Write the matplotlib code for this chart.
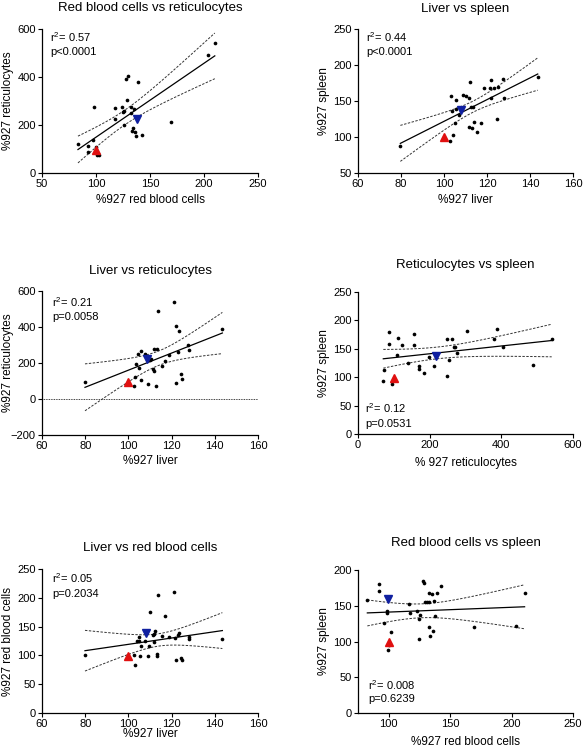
import numpy as np
import matplotlib
matplotlib.use("Agg")
import matplotlib.pyplot as plt

plt.rcParams['font.family'] = ['Liberation Sans', 'DejaVu Sans']
plt.rcParams['mathtext.fontset'] = 'custom'
plt.rcParams['mathtext.rm'] = 'Liberation Sans'
plt.rcParams['mathtext.it'] = 'Liberation Sans'
plt.rcParams['mathtext.bf'] = 'Liberation Sans'

# ---------------- data ----------------
# Panel 1: red blood cells (x) vs reticulocytes (y)
rbc_ret_x = [83.3, 92.2, 92.8, 96.8, 98.4, 99.6, 100.2, 101, 103, 117.2, 117.8, 124, 124.9,
             125.5, 125.8, 128, 128.6, 129.8, 132.6, 132.6, 133.2, 134.4, 135.4, 136, 136.9,
             139, 143, 169.6, 203.8, 210]
rbc_ret_y = [121, 114, 88, 139, 277, 110, 89, 74, 74, 269, 224, 277, 253,
             198, 259, 390, 303, 406, 249, 274, 175, 186, 266, 171, 155,
             380, 157, 213, 493, 543]
rbc_ret_ref = (100, 96)
rbc_ret_mean = (137.8, 224)

# Panel 2: liver (x) vs spleen (y)
liv_spl_x = [79.7, 102.9, 103.2, 104.4, 103.7, 104.9, 105.5, 105.4, 107.2, 107.8, 108.9, 110.2,
             111.7, 111.7, 112.3, 112.6, 113.1, 113.9, 113.6, 115.4, 117, 118.5, 121.3, 121.7,
             121.7, 123.2, 124.9, 124.6, 127.6, 127.8, 143.6]
liv_spl_y = [87.5, 94, 156.5, 102.3, 136, 119, 152, 139.4, 130.6, 137.5, 158, 156.5,
             154.6, 114.4, 176, 142, 112, 121, 142, 107.4, 120, 167.6, 167.6, 178.7,
             154.6, 167.6, 169, 125.5, 181, 154, 183.3]
liv_spl_ref = (100, 100)
liv_spl_mean = (108.1, 137.5)

# Panel 3: liver (x) vs reticulocytes (y)
liv_ret_x = [79.9, 103, 102.8, 103.7, 104.5, 105, 105.8, 106, 107.5, 109.2, 110, 110.4,
             111.6, 112, 112, 113.2, 113, 113.7, 115.5, 116.9, 118.6, 121.3, 121.9, 122,
             123, 123.3, 124.4, 124.7, 127.8, 128, 143.5]
liv_ret_y = [95, 121, 71, 197, 251, 171, 269, 108, 252, 84, 219, 225,
             166, 155, 277, 277, 73, 489, 182, 212, 247, 539, 404, 88,
             260, 380, 140, 112, 299, 275, 389]
liv_ret_ref = (100, 95)
liv_ret_mean = (108.5, 221)

# Panel 4: reticulocytes (x) vs spleen (y)
ret_spl_x = [70.6, 71.5, 85.4, 86.4, 93.8, 107.7, 112.4, 121.7, 139.3, 155, 157, 170,
             170, 183, 197.8, 211.8, 249, 249, 254.5, 262.8, 268.4, 272, 276.8, 302.8,
             379, 388, 404, 488.5, 540.5]
ret_spl_y = [94, 112.7, 180, 159, 87.6, 139, 169, 157, 124.4, 156, 176, 120,
             114.5, 107, 136, 120, 102, 168, 131, 166.5, 152.5, 154, 142, 181,
             167.6, 184, 154, 121, 167]
ret_spl_ref = (100, 99)
ret_spl_mean = (218, 137)

# Panel 5: liver (x) vs red blood cells (y)
liv_rbc_x = [79.9, 102.8, 103.1, 103.8, 104.7, 105, 105.6, 106, 107.5, 109.2, 109.5, 110.2,
             111.6, 112, 112, 112.5, 113.2, 113.2, 113.6, 115.5, 116.9, 118.7, 121.2, 121.8,
             122, 123, 123.2, 124.4, 124.9, 128, 128, 143.5]
liv_rbc_y = [100, 100, 82.6, 125.6, 125.6, 132.6, 98.8, 117, 125, 98.8, 117, 175,
             135, 122.7, 136.6, 142.4, 103, 99.4, 204, 133.7, 169, 132, 210, 129.7,
             92.4, 135.5, 139, 96, 91.9, 132.6, 129, 128]
liv_rbc_ref = (100, 99.4)
liv_rbc_mean = (108, 139)

# Panel 6: red blood cells (x) vs spleen (y)
rbc_spl_x = [82.6, 92.1, 92.1, 96.2, 98.4, 98.9, 99.7, 100.5, 102.2, 116.3, 117.7, 123.4,
             124.5, 125.8, 124.7, 127.7, 128.5, 129.6, 131.3, 132.6, 132.6, 132.6, 134, 135.3,
             135.9, 136.7, 138, 138.9, 142.7, 169.3, 204, 210.6]
rbc_spl_y = [157.7, 180, 170, 126, 143, 140, 88, 95, 112.6, 152, 139.5, 143,
             131, 137, 103, 184, 182, 155, 155, 168, 155, 120, 108, 167,
             115, 156, 136, 168, 177, 120.5, 122, 168]
rbc_spl_ref = (100, 100)
rbc_spl_mean = (99.2, 160)

titles = ["Red blood cells vs reticulocytes", "Liver vs spleen",
          "Liver vs reticulocytes", "Reticulocytes vs spleen",
          "Liver vs red blood cells", "Red blood cells vs spleen"]
xlabels = ["%927 red blood cells", "%927 liver", "%927 liver",
           "% 927 reticulocytes", "%927 liver", "%927 red blood cells"]
ylabels = ["%927 reticulocytes", "%927 spleen", "%927 reticulocytes",
           "%927 spleen", "%927 red blood cells", "%927 spleen"]
r2_texts = ["0.57", "0.44", "0.21", "0.12", "0.05", "0.008"]
p_texts = ["p<0.0001", "p<0.0001", "p=0.0058", "p=0.0531", "p=0.2034", "p=0.6239"]
xticks = [[50, 100, 150, 200, 250], [60, 80, 100, 120, 140, 160], [60, 80, 100, 120, 140, 160],
          [0, 200, 400, 600], [60, 80, 100, 120, 140, 160], [100, 150, 200, 250]]
yticks = [[0, 200, 400, 600], [50, 100, 150, 200, 250], [-200, 0, 200, 400, 600],
          [0, 50, 100, 150, 200, 250], [0, 50, 100, 150, 200, 250], [0, 50, 100, 150, 200]]
xlims = [(50, 250), (60, 160), (60, 160), (0, 600), (60, 160), (75, 250)]
ylims = [(0, 600), (50, 250), (-200, 600), (0, 250), (0, 250), (0, 200)]

panels = [(rbc_ret_x, rbc_ret_y, rbc_ret_ref, rbc_ret_mean),
          (liv_spl_x, liv_spl_y, liv_spl_ref, liv_spl_mean),
          (liv_ret_x, liv_ret_y, liv_ret_ref, liv_ret_mean),
          (ret_spl_x, ret_spl_y, ret_spl_ref, ret_spl_mean),
          (liv_rbc_x, liv_rbc_y, liv_rbc_ref, liv_rbc_mean),
          (rbc_spl_x, rbc_spl_y, rbc_spl_ref, rbc_spl_mean)]

# ---------------- layout (pixels) ----------------
W, H = 584, 749
rects = [(42, 258, 29, 173), (358, 573, 29, 173),
         (42, 258, 291, 435), (358, 573, 292, 434),
         (42, 258, 569, 713), (358, 573, 570, 713)]
title_y = [8, 9, 271, 265, 548, 543]
xlabel_y = [200, 200, 461, 463, 734, 742]
ylabel_x = [8, 324, 8, 324, 8, 324]
stat_pos = [(50, 37, 52), (366, 37, 52), (52, 302, 317), (365, 408, 424),
            (52, 578, 594), (368, 685, 699)]

fig = plt.figure(figsize=(W / 100, H / 100), dpi=100)
T_CRIT = 2.05

for i, (xs, ys, ref, mean) in enumerate(panels):
    l, r, t, b = rects[i]
    ax = fig.add_axes([l / W, 1 - b / H, (r - l) / W, (b - t) / H])
    xs = np.asarray(xs, float)
    ys = np.asarray(ys, float)

    # linear regression with 95% confidence band
    slope, intercept = np.polyfit(xs, ys, 1)
    n = len(xs)
    resid = ys - (slope * xs + intercept)
    s = np.sqrt(np.sum(resid ** 2) / (n - 2))
    xx = np.linspace(xs.min(), xs.max(), 100)
    yy = slope * xx + intercept
    se = s * np.sqrt(1 / n + (xx - xs.mean()) ** 2 / np.sum((xs - xs.mean()) ** 2))
    ax.plot(xx, yy, color='black', lw=0.9, zorder=3)
    ax.plot(xx, yy + T_CRIT * se, color='#333333', lw=0.7, ls=(0, (2.5, 1.5)), zorder=3)
    ax.plot(xx, yy - T_CRIT * se, color='#333333', lw=0.7, ls=(0, (2.5, 1.5)), zorder=3)

    if i == 2:
        ax.axhline(0, color='black', lw=0.6, ls=(0, (1, 1)), zorder=1)

    ax.scatter(xs, ys, s=7, color='black', zorder=4, linewidths=0)
    ax.plot([ref[0]], [ref[1]], marker='^', color='#e01010', ms=5.5, ls='none', zorder=5)
    ax.plot([mean[0]], [mean[1]], marker='v', color='#1020a0', ms=5.5, ls='none', zorder=5)

    ax.set_xlim(*xlims[i])
    ax.set_ylim(*ylims[i])
    ax.set_xticks(xticks[i])
    ax.set_yticks(yticks[i])
    ax.spines['top'].set_visible(False)
    ax.spines['right'].set_visible(False)
    ax.spines['left'].set_linewidth(0.9)
    ax.spines['bottom'].set_linewidth(0.9)
    ax.tick_params(direction='out', length=3, width=0.8, labelsize=8, pad=1.5)

    fig.text((l + r) / 2 / W, 1 - title_y[i] / H, titles[i], ha='center', va='center',
             fontsize=9.5)
    fig.text((l + r) / 2 / W, 1 - xlabel_y[i] / H, xlabels[i], ha='center', va='center',
             fontsize=8.5)
    fig.text(ylabel_x[i] / W, 1 - (t + b) / 2 / H, ylabels[i], ha='center', va='center',
             rotation=90, fontsize=8.5)
    sx, sy1, sy2 = stat_pos[i]
    fig.text(sx / W, 1 - sy1 / H, "r$^{2}$= " + r2_texts[i], ha='left', va='center',
             fontsize=8)
    fig.text(sx / W, 1 - sy2 / H, p_texts[i], ha='left', va='center', fontsize=8)

fig.savefig("out.png", dpi=100)
